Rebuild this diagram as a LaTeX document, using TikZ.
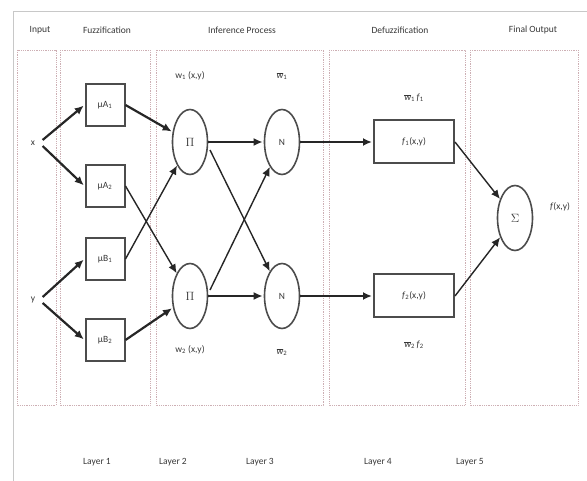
\documentclass[tikz,border=0pt]{standalone}
\usepackage{fontspec}
\setmainfont{Carlito}
\usetikzlibrary{arrows.meta,shapes.geometric}
\definecolor{frame}{RGB}{200,200,200}
\definecolor{dashc}{RGB}{205,175,180}
\definecolor{txt}{RGB}{55,55,55}
\newcommand{\wbar}[1]{\ensuremath{\overline{\mbox{\itshape w}}}\textsubscript{#1}}
\begin{document}
\begin{tikzpicture}[x=1pt,y=-1pt,
  every node/.style={text=txt,font=\fontsize{9.5}{11}\selectfont},
  col/.style={draw=dashc,densely dotted,line width=0.8pt},
  mfbox/.style={draw=black!70,line width=2pt,minimum width=39pt,minimum height=42pt,inner sep=0pt},
  fbox/.style={draw=black!70,line width=2pt,minimum width=80pt,minimum height=43pt,inner sep=0pt},
  ell/.style={draw=black!70,line width=1.6pt,ellipse,minimum width=35pt,minimum height=65pt,inner sep=0pt},
  arr/.style={-{Latex[length=9pt,width=8pt]},line width=2.2pt,black!85,shorten >=1pt},
  lnarr/.style={-{Latex[length=9pt,width=8pt]},line width=1.4pt,black!85}
]
\useasboundingbox (0,0) rectangle (587,481);
% outer frame
\draw[frame,line width=1pt] (13,481) -- (13,12) -- (587,12);
% column boxes
\draw[col] (17,50) rectangle (56,405);
\draw[col] (60,50) rectangle (150,405);
\draw[col] (156,50) rectangle (323,405);
\draw[col] (329,50) rectangle (465,405);
\draw[col] (470,50) rectangle (578,405);
% headers
\node (hin) at (40,30) {Input};
\node (hfz) at (107,30) {Fuzzification};
\node (hinf) at (242,30) {Inference Process};
\node (hdf) at (400,30) {Defuzzification};
\node (hout) at (533,30) {Final Output};
% inputs
\node (x) at (33,143) {x};
\node (y) at (33,300) {y};
% layer 1
\node[mfbox] (a1) at (105,105) {μA\textsubscript{1}};
\node[mfbox] (a2) at (105,186) {μA\textsubscript{2}};
\node[mfbox] (b1) at (105,259) {μB\textsubscript{1}};
\node[mfbox] (b2) at (105,340) {μB\textsubscript{2}};
% layer 2
\node[ell] (p1) at (190,142) {\large$\Pi$};
\node[ell] (p2) at (190,296) {\large$\Pi$};
\node (w1) at (190,76) {w\textsubscript{1} (x,y)};
\node (w2) at (190,350) {w\textsubscript{2} (x,y)};
% layer 3
\node[ell] (n1) at (282,142) {N};
\node[ell] (n2) at (282,296) {N};
\node (wb1) at (282,76) {\wbar{1}};
\node (wb2) at (282,352) {\wbar{2}};
% layer 4
\node[fbox] (f1) at (414,142) {\textit{f}\textsubscript{1}(x,y)};
\node[fbox] (f2) at (414,296) {\textit{f}\textsubscript{2}(x,y)};
\node (wf1) at (414,98) {\wbar{1}\,\textit{f}\textsubscript{1}};
\node (wf2) at (414,345) {\wbar{2}\,\textit{f}\textsubscript{2}};
% layer 5
\node[ell] (s) at (515,218) {\large$\Sigma$};
\node (fo) at (560,207) {\textit{f}(x,y)};
% layer labels
\node (l1) at (97,462) {Layer 1};
\node (l2) at (173,462) {Layer 2};
\node (l3) at (260,462) {Layer 3};
\node (l4) at (378,462) {Layer 4};
\node (l5) at (470,462) {Layer 5};
% arrows
\draw[arr] (x.east) ++(4,-3) coordinate (xs1) -- (a1.west);
\draw[arr] (x.east) ++(4,3) coordinate (xs2) -- (a2.west);
\draw[arr] (y.east) ++(4,-3) coordinate (ys1) -- (b1.west);
\draw[arr] (y.east) ++(4,3) coordinate (ys2) -- (b2.west);
\draw[arr] (a1.east) -- (p1);
\draw[arr] (b2.east) -- (p2);
\draw[lnarr] (a2.east) -- (p2);
\draw[lnarr] (b1.east) -- (p1);
\draw[arr] (p1.east) -- (n1.west);
\draw[arr] (p2.east) -- (n2.west);
\draw[lnarr] (p1) ++(20,8) coordinate (pc1) -- (n2);
\draw[lnarr] (p2) ++(20,-6) coordinate (pc2) -- (n1);
\draw[arr] (n1.east) -- (f1.west);
\draw[arr] (n2.east) -- (f2.west);
\draw[lnarr] (f1.east) -- (s);
\draw[lnarr] (f2.east) -- (s);
\end{tikzpicture}
\end{document}
